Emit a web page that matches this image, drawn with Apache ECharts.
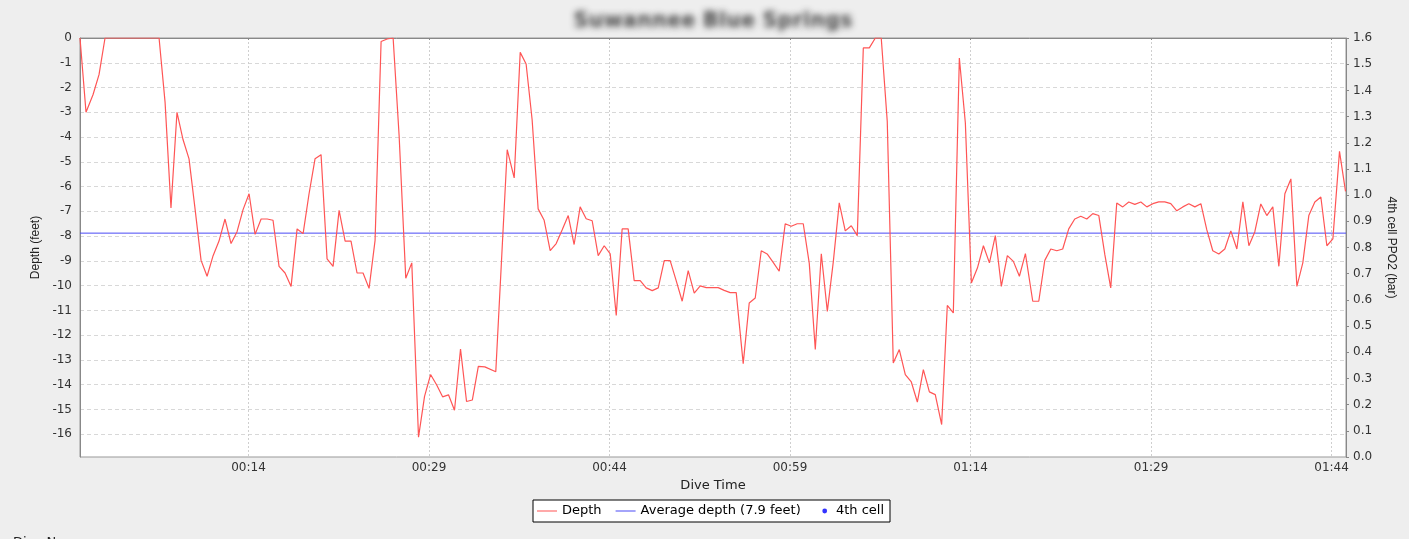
<!DOCTYPE html>
<html>
<head>
<meta charset="utf-8">
<script src="https://cdn.jsdelivr.net/npm/echarts@6/dist/echarts.min.js"></script>
<style>
html,body{margin:0;padding:0;background:#eeeeee;}
#chart{width:1409px;height:539px;}
</style>
</head>
<body>
<div id="chart"></div>
<script>
// ---- data (time in minutes, depth in feet) ----
const chartTitle = 'Suwannee Blue Springs';
const times = [
  0, 0.5, 1.08, 1.58, 2.08, 6.57, 7.07, 7.56, 8.06, 8.56,
  9.06, 9.56, 10.06, 10.56, 11.06, 11.55, 12.05, 12.55, 13.05, 13.55,
  14.05, 14.55, 15.05, 15.55, 16.04, 16.54, 17.04, 17.54, 18.04, 18.54,
  19.03, 19.53, 20.03, 20.53, 21.03, 21.53, 22.03, 22.52, 23.02, 23.52,
  24.02, 24.52, 25.02, 25.52, 26.02, 26.52, 27.07, 27.57, 28.13, 28.63,
  29.13, 29.63, 30.13, 30.62, 31.12, 31.62, 32.12, 32.6, 33.1, 33.64,
  34.55, 35.5, 36.08, 36.58, 37.07, 37.57, 38.07, 38.57, 39.07, 39.57,
  40.07, 40.57, 41.06, 41.56, 42.06, 42.56, 43.06, 43.56, 44.06, 44.56,
  45.05, 45.55, 46.05, 46.55, 47.05, 47.55, 48.05, 48.55, 49.04, 49.54,
  50.04, 50.54, 51.04, 51.54, 52.04, 52.54, 53.03, 53.53, 54.03, 54.53,
  55.11, 55.61, 56.11, 56.61, 57.1, 57.6, 58.1, 58.6, 59.1, 59.6,
  60.1, 60.6, 61.1, 61.6, 62.1, 62.6, 63.09, 63.59, 64.09, 64.59,
  65.09, 65.59, 66.09, 66.58, 67.08, 67.58, 68.08, 68.58, 69.08, 69.58,
  70.08, 70.58, 71.07, 71.6, 72.07, 72.57, 73.07, 73.57, 74.07, 74.57,
  75.07, 75.57, 76.06, 76.56, 77.06, 77.56, 78.06, 78.56, 79.17, 79.67,
  80.17, 80.67, 81.17, 81.66, 82.16, 82.66, 83.16, 83.66, 84.16, 84.66,
  85.16, 85.65, 86.15, 86.65, 87.15, 87.65, 88.15, 88.65, 89.15, 89.64,
  90.14, 90.64, 91.14, 91.64, 92.14, 92.64, 93.14, 93.63, 94.13, 94.63,
  95.13, 95.63, 96.13, 96.63, 97.13, 97.62, 98.12, 98.62, 99.12, 99.62,
  100.12, 100.62, 101.12, 101.61, 102.11, 102.61, 103.11, 103.61, 104.11, 104.66,
  105.16
];
const depths = [
  0, -3.0, -2.29, -1.48, 0, 0, -2.6, -6.86, -3.0, -4.1,
  -4.88, -6.9, -8.98, -9.62, -8.79, -8.2, -7.31, -8.3, -7.82, -6.93,
  -6.29, -7.93, -7.31, -7.31, -7.36, -9.22, -9.49, -10.03, -7.71, -7.9,
  -6.3, -4.88, -4.71, -8.92, -9.22, -6.96, -8.2, -8.2, -9.49, -9.49,
  -10.11, -8.17, -0.14, -0.04, 0, -3.97, -9.7, -9.08, -16.12, -14.47,
  -13.59, -14.0, -14.49, -14.41, -15.03, -12.56, -14.68, -14.62, -13.26, -13.28,
  -13.48, -4.51, -5.65, -0.58, -1.05, -3.3, -6.9, -7.36, -8.59, -8.3,
  -7.74, -7.17, -8.34, -6.82, -7.3, -7.38, -8.79, -8.39, -8.72, -11.2,
  -7.71, -7.71, -9.8, -9.8, -10.09, -10.2, -10.09, -8.99, -8.99, -9.8,
  -10.63, -9.39, -10.3, -10.01, -10.08, -10.08, -10.08, -10.19, -10.28, -10.28,
  -13.15, -10.7, -10.5, -8.59, -8.72, -9.06, -9.42, -7.5, -7.6, -7.5,
  -7.5, -9.1, -12.58, -8.71, -11.04, -9.02, -6.66, -7.79, -7.58, -7.98,
  -0.4, -0.4, 0, 0, -3.37, -13.12, -12.58, -13.59, -13.89, -14.7,
  -13.39, -14.29, -14.4, -15.61, -10.8, -11.1, -0.81, -3.43, -9.89, -9.29,
  -8.39, -9.08, -7.98, -10.03, -8.79, -9.02, -9.62, -8.71, -10.63, -10.63,
  -8.98, -8.52, -8.59, -8.52, -7.71, -7.31, -7.2, -7.31, -7.09, -7.17,
  -8.75, -10.09, -6.66, -6.82, -6.62, -6.72, -6.62, -6.82, -6.69, -6.62,
  -6.62, -6.69, -6.98, -6.82, -6.69, -6.82, -6.69, -7.74, -8.59, -8.72,
  -8.52, -7.79, -8.52, -6.62, -8.39, -7.83, -6.7, -7.17, -6.82, -9.22,
  -6.29, -5.69, -10.03, -9.08, -7.17, -6.62, -6.42, -8.39, -8.11, -4.58,
  -6.19
];
const averageDepth = -7.88;
const cellPpo2 = [];            // "4th cell" series: no visible points
const timeTicks = [14, 29, 44, 59, 74, 89, 104];
const depthTicks = [0, -1, -2, -3, -4, -5, -6, -7, -8, -9, -10, -11, -12, -13, -14, -15, -16];
const seriesNames = ['Depth', 'Average depth (7.9 feet)', '4th cell'];

// ---- chart ----
const xMin = 0, xMax = 105.2;
const depthPairs = times.map((t, i) => [t, depths[i]]);
const avgPairs = [[xMin, averageDepth], [xMax, averageDepth]];

function fmtTime(v) {
  const h = Math.floor(v / 60), m = Math.round(v % 60);
  return String(h).padStart(2, '0') + ':' + String(m).padStart(2, '0');
}

const chart = echarts.init(document.getElementById('chart'), null, {renderer: 'canvas'});
const OFF = 3000;
const lineIcon = 'path://M0,0 L0.001,0 Z M0,6.5 L20,6.5 L20,7.5 L0,7.5 Z M0,14 L0.001,14 Z';
const dotIcon = 'path://M0,0 L0.001,0 Z M7.6,7 A2.4,2.4 0 1 1 12.4,7 A2.4,2.4 0 1 1 7.6,7 Z M0,14 L0.001,14 Z';

chart.setOption({
  backgroundColor: '#eeeeee',
  animation: false,
  graphic: [
    {
      type: 'text', x: 713 - OFF, y: 22, silent: true,
      style: {
        text: chartTitle, font: 'bold 21px "DejaVu Sans"', fill: '#333',
        align: 'center', verticalAlign: 'middle',
        textShadowColor: 'rgba(40,40,40,0.85)', textShadowBlur: 6,
        textShadowOffsetX: OFF, textShadowOffsetY: 0
      }
    },
    {
      type: 'text', x: 13, y: 536, silent: true,
      style: { text: 'Dive N', font: '13px "DejaVu Sans"', fill: '#222', verticalAlign: 'top' }
    }
  ],
  grid: {
    left: 80, right: 63, top: 38, bottom: 82,
    show: true, backgroundColor: '#ffffff', borderColor: '#999999', borderWidth: 1
  },
  legend: {
    left: 533, top: 500,
    padding: [4, 6, 4, 4],
    backgroundColor: '#ffffff', borderColor: '#000000', borderWidth: 1, borderRadius: 0,
    itemWidth: 20, itemHeight: 14, itemGap: 14,
    textStyle: { fontFamily: 'DejaVu Sans', fontSize: 13, color: '#000' },
    data: [
      { name: seriesNames[0], icon: lineIcon, itemStyle: { color: '#ff5555' } },
      { name: seriesNames[1], icon: lineIcon, itemStyle: { color: '#4a4af5' } },
      { name: seriesNames[2], icon: dotIcon, itemStyle: { color: '#0000ff' } }
    ]
  },
  xAxis: {
    type: 'value', min: xMin, max: xMax,
    name: 'Dive Time', nameLocation: 'middle', nameGap: 21,
    nameTextStyle: { fontFamily: 'DejaVu Sans', fontSize: 13, color: '#222' },
    axisLine: { show: true, lineStyle: { color: '#888888' } },
    axisTick: { show: true, length: 2, customValues: timeTicks, lineStyle: { color: '#888888' } },
    axisLabel: { customValues: timeTicks, formatter: fmtTime, margin: 5,
      fontFamily: 'DejaVu Sans', fontSize: 12, color: '#333' },
    splitLine: { show: true, lineStyle: { color: '#cfcfcf', type: [2, 2] } }
  },
  yAxis: [
    {
      type: 'value', min: -16.92, max: 0, position: 'left',
      name: 'Depth (feet)', nameLocation: 'middle', nameGap: 37, nameRotate: 90,
      nameTextStyle: { fontFamily: 'Liberation Sans', fontSize: 12, color: '#222' },
      axisLine: { show: true, lineStyle: { color: '#888888' } },
      axisTick: { show: false, customValues: depthTicks },
      axisLabel: { customValues: depthTicks, margin: 8,
        fontFamily: 'DejaVu Sans', fontSize: 12, color: '#333' },
      splitLine: { show: true, lineStyle: { color: '#d8d8d8', type: [4, 3] } }
    },
    {
      type: 'value', min: 0, max: 1.6, interval: 0.1, position: 'right',
      name: '4th cell PPO2 (bar)', nameLocation: 'middle', nameGap: 39, nameRotate: -90,
      nameTextStyle: { fontFamily: 'Liberation Sans', fontSize: 12, color: '#222' },
      axisLine: { show: true, lineStyle: { color: '#888888' } },
      axisTick: { show: true, length: 3, lineStyle: { color: '#888888' } },
      axisLabel: { margin: 7, formatter: v => v.toFixed(1),
        fontFamily: 'DejaVu Sans', fontSize: 12, color: '#333' },
      splitLine: { show: false }
    }
  ],
  series: [
    {
      name: seriesNames[1], type: 'line', yAxisIndex: 0, data: avgPairs,
      showSymbol: false, silent: true,
      lineStyle: { color: '#4a4af5', width: 1 }, itemStyle: { color: '#4a4af5' }
    },
    {
      name: seriesNames[0], type: 'line', yAxisIndex: 0, data: depthPairs,
      showSymbol: false, silent: true, z: 3,
      lineStyle: { color: '#ff5555', width: 1.2 }, itemStyle: { color: '#ff5555' }
    },
    {
      name: seriesNames[2], type: 'scatter', yAxisIndex: 1, data: cellPpo2,
      symbolSize: 5, itemStyle: { color: '#0000ff' }
    }
  ]
});
</script>
</body>
</html>
